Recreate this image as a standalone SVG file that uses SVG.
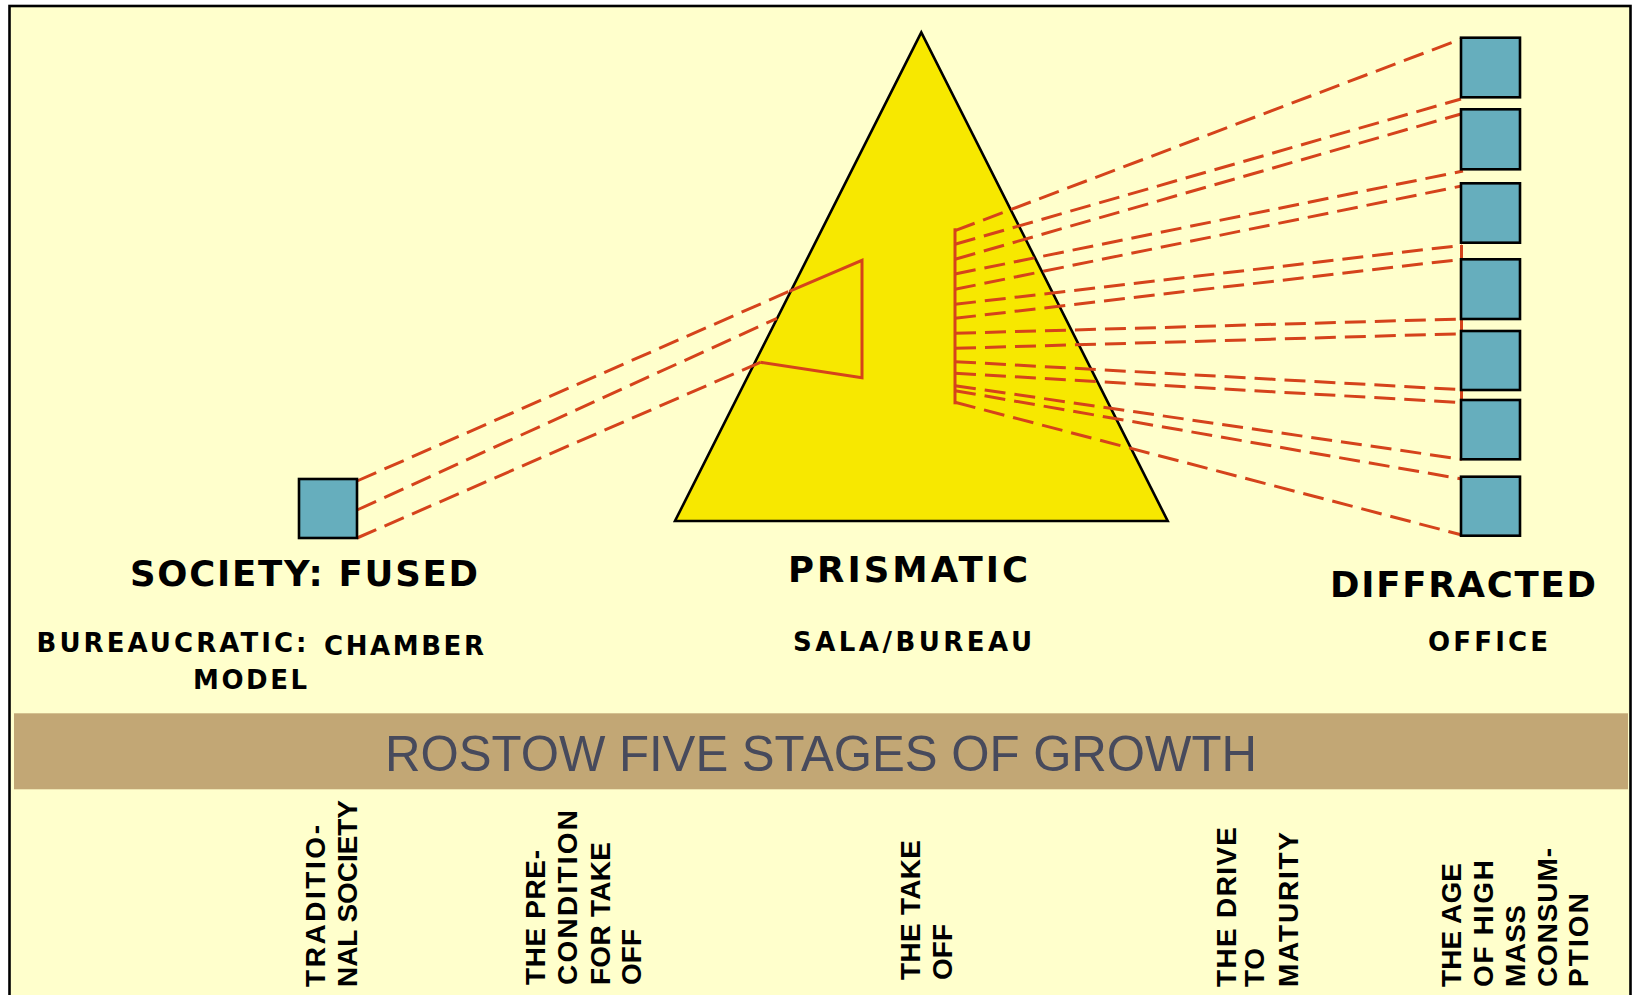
<svg xmlns="http://www.w3.org/2000/svg" width="1633" height="995" viewBox="0 0 1633 995">
<defs>
<style>
.lbl{font-family:"DejaVu Sans","Liberation Sans",Arial,sans-serif;font-weight:bold;fill:#000}
.big{font-size:35.5px}
.mid{font-size:26px}
.vt{font-family:"Liberation Sans",Arial,sans-serif;font-weight:bold;font-size:28px;fill:#000}
.dash{fill:none;stroke:#D5431B;stroke-width:3;stroke-dasharray:21 9}
.solid{fill:none;stroke:#D5431B;stroke-width:3}
.sq{fill:#66AEBD;stroke:#000;stroke-width:2.6}
</style>
</defs>
<rect x="0" y="0" width="1633" height="995" fill="#FFFFFF"/>
<rect id="frame" x="9.5" y="6" width="1621" height="1010" fill="#FFFFCC" stroke="#000" stroke-width="2.6"/>
<g id="prism">
<polygon points="921.3,32.3 675,521 1167.7,521" fill="#F7E800" stroke="#000" stroke-width="2.6" stroke-linejoin="miter"/>
</g>
<g id="connectors">
<line class="dash" x1="357" y1="481" x2="789.3" y2="291.3"/>
<line class="dash" x1="357" y1="510" x2="777" y2="318.3"/>
<line class="dash" x1="357" y1="538" x2="760.3" y2="362.3"/>
<polyline class="solid" points="789.3,291.3 862,260.3 862,377.7 760.3,362.3"/>
<line class="solid" x1="955" y1="228.3" x2="955" y2="404.3"/>
<line class="dash" x1="955" y1="230.7" x2="1463" y2="38.3"/>
<line class="dash" x1="955" y1="244.3" x2="1461" y2="99"/>
<line class="dash" x1="955" y1="259.3" x2="1461" y2="114"/>
<line class="dash" x1="955" y1="274" x2="1463" y2="171"/>
<line class="dash" x1="955" y1="289.3" x2="1463" y2="185.7"/>
<line class="dash" x1="955" y1="304.3" x2="1462" y2="245.3"/>
<line class="dash" x1="955" y1="318.3" x2="1462" y2="259.3"/>
<line class="dash" x1="955" y1="333.3" x2="1462" y2="319"/>
<line class="dash" x1="955" y1="348.3" x2="1462" y2="333.7"/>
<line class="dash" x1="955" y1="361.7" x2="1462" y2="389.7"/>
<line class="dash" x1="955" y1="373.3" x2="1462" y2="402.7"/>
<line class="dash" x1="955" y1="385.7" x2="1462" y2="459.3"/>
<line class="dash" x1="955" y1="390.7" x2="1462" y2="479"/>
<line class="dash" x1="955" y1="402.3" x2="1462" y2="535"/>
<line class="solid" x1="1461.5" y1="245" x2="1461.5" y2="412"/>
</g>
<g id="fused">
<rect class="sq" x="299" y="479" width="58" height="59"/>
</g>
<g id="diffracted">
<rect class="sq" x="1461" y="37.7" width="59" height="59.6"/>
<rect class="sq" x="1461" y="109.3" width="59" height="60"/>
<rect class="sq" x="1461" y="183.3" width="59" height="59.4"/>
<rect class="sq" x="1461" y="259.3" width="59" height="59.7"/>
<rect class="sq" x="1461" y="331" width="59" height="59"/>
<rect class="sq" x="1461" y="400" width="59" height="59.3"/>
<rect class="sq" x="1461" y="476.7" width="59" height="59"/>
</g>
<g id="labels">
<text class="lbl big" x="130" y="586" textLength="348" lengthAdjust="spacing">SOCIETY: FUSED</text>
<text class="lbl big" x="788" y="582" textLength="240" lengthAdjust="spacing">PRISMATIC</text>
<text class="lbl big" x="1330" y="597" textLength="266" lengthAdjust="spacing">DIFFRACTED</text>
<text class="lbl mid" x="36.5" y="652" textLength="270" lengthAdjust="spacing">BUREAUCRATIC:</text>
<text class="lbl mid" x="324" y="655" textLength="160" lengthAdjust="spacing">CHAMBER</text>
<text class="lbl mid" x="193" y="689" textLength="114" lengthAdjust="spacing">MODEL</text>
<text class="lbl mid" x="793" y="651" textLength="239" lengthAdjust="spacing">SALA/BUREAU</text>
<text class="lbl mid" x="1428" y="651" textLength="120" lengthAdjust="spacing">OFFICE</text>
</g>
<g id="band">
<rect x="14" y="713.3" width="1614" height="76" fill="#C2A775"/>
<text x="385" y="771" font-family="'Liberation Sans',Arial,sans-serif" font-size="50" fill="#474A5C" textLength="872" lengthAdjust="spacingAndGlyphs">ROSTOW FIVE STAGES OF GROWTH</text>
</g>
<g id="stage1">
<text class="vt" transform="translate(325,987) rotate(-90)" textLength="162" lengthAdjust="spacing">TRADITIO-</text>
<text class="vt" transform="translate(357,987) rotate(-90)" textLength="187" lengthAdjust="spacing">NAL SOCIETY</text>
</g>
<g id="stage2">
<text class="vt" transform="translate(545,985) rotate(-90)" textLength="135" lengthAdjust="spacing">THE PRE-</text>
<text class="vt" transform="translate(577,985) rotate(-90)" textLength="175" lengthAdjust="spacing">CONDITION</text>
<text class="vt" transform="translate(610,985) rotate(-90)" textLength="143" lengthAdjust="spacing">FOR TAKE</text>
<text class="vt" transform="translate(641,985) rotate(-90)">OFF</text>
</g>
<g id="stage3">
<text class="vt" transform="translate(920,980) rotate(-90)" textLength="140" lengthAdjust="spacing">THE TAKE</text>
<text class="vt" transform="translate(952,980) rotate(-90)">OFF</text>
</g>
<g id="stage4">
<text class="vt" transform="translate(1236,987) rotate(-90)" textLength="160" lengthAdjust="spacing">THE DRIVE</text>
<text class="vt" transform="translate(1264,987) rotate(-90)" textLength="39" lengthAdjust="spacing">TO</text>
<text class="vt" transform="translate(1298,987) rotate(-90)" textLength="155" lengthAdjust="spacing">MATURITY</text>
</g>
<g id="stage5">
<text class="vt" transform="translate(1461,987) rotate(-90)" textLength="124" lengthAdjust="spacing">THE AGE</text>
<text class="vt" transform="translate(1493,987) rotate(-90)" textLength="127" lengthAdjust="spacing">OF HIGH</text>
<text class="vt" transform="translate(1525,987) rotate(-90)" textLength="82" lengthAdjust="spacing">MASS</text>
<text class="vt" transform="translate(1557,987) rotate(-90)" textLength="139" lengthAdjust="spacing">CONSUM-</text>
<text class="vt" transform="translate(1588,987) rotate(-90)" textLength="94" lengthAdjust="spacing">PTION</text>
</g>
</svg>
